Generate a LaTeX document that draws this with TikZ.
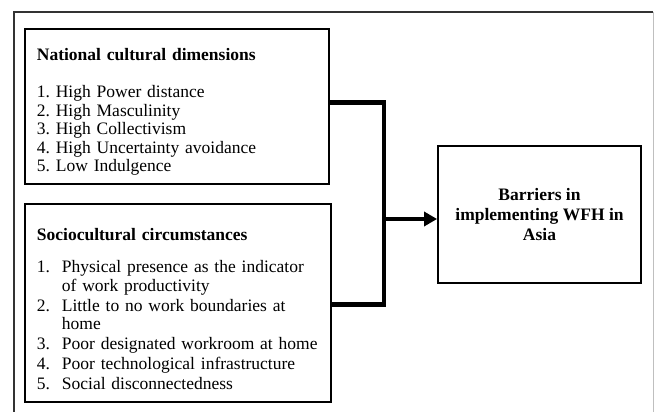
\documentclass[tikz,border=0pt]{standalone}
\usepackage{fontspec}
\setmainfont{Liberation Serif}
\usetikzlibrary{arrows.meta}
\frenchspacing
\newcommand{\listno}[1]{\makebox[25pt][l]{#1}}

\begin{document}
\begin{tikzpicture}[x=1pt, y=1pt,
    box/.style={draw, line width=1.8pt, anchor=north west, align=left, inner xsep=12pt, inner ysep=8pt, font=\fontsize{17.5}{18.5}\selectfont},
    link/.style={line width=4.5pt}]
    \useasboundingbox (0,0) rectangle (654,-412);
    % outer frame
    \draw[line width=1.5pt, black!80] (14,-412) |- (653,-12);
    \draw[line width=1pt, black!25] (653,-12) -- (653,-412);

    \node[box, text width=280pt] (cult) at (24,-28) {\rule{0pt}{24pt}\textbf{National cultural dimensions}\\[18.5pt]
        1. High Power distance\\
        2. High Masculinity\\
        3. High Collectivism\\
        4. High Uncertainty avoidance\\
        5. Low Indulgence};
    \node[box, text width=282pt, inner ysep=12pt] (socio) at (24,-203) {\rule{0pt}{25pt}\textbf{Sociocultural circumstances}\\[13.5pt]
        \listno{1.}Physical presence as the indicator\\
        \listno{}of work productivity\\[1.5pt]
        \listno{2.}Little to no work boundaries at\\
        \listno{}home\\[1.5pt]
        \listno{3.}Poor designated workroom at home\\[1.5pt]
        \listno{4.}Poor technological infrastructure\\[1.5pt]
        \listno{5.}Social disconnectedness};
    \node[draw, line width=1.8pt, minimum width=203pt, minimum height=137pt, align=center, font=\fontsize{17.5}{20}\selectfont\bfseries] (barr) at (539.5,-214.5) {Barriers in\\implementing WFH in\\Asia};

    % joining lines into the arrow
    \draw[link] ([yshift=4pt]cult.east) -- ++(54,0) coordinate (jn) |- ([yshift=-1.5pt]socio.east);
    \coordinate (tip) at ([yshift=-4.5pt]barr.west);
    \draw[link, -{Triangle[length=13pt, width=14pt]}] (jn |- tip) -- (tip);
\end{tikzpicture}
\end{document}
